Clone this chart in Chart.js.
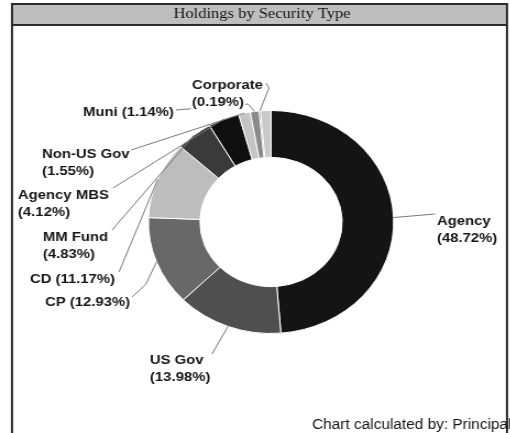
<!DOCTYPE html>
<html>
<head>
<meta charset="utf-8">
<script src="https://cdn.jsdelivr.net/npm/chart.js@4"></script>
<style>
  html, body { margin: 0; padding: 0; background: #fff; overflow: hidden; }
  /* the scanned chart is stretched sideways, so the canvas is too */
  #wrap { width: 464px; height: 433px; transform: scaleX(1.1); transform-origin: 0 0; }
</style>
</head>
<body>
<div id="wrap"><canvas id="holdingsChart" width="464" height="433"></canvas></div>
<script>
const categories = ['Agency', 'US Gov', 'CP', 'CD', 'MM Fund', 'Agency MBS', 'Non-US Gov', 'Muni', 'Corporate', ''];
const shares = [48.72, 13.98, 12.93, 11.17, 4.83, 4.12, 1.55, 1.14, 0.19, 1.37];
const sliceColors = ['#141414', '#4f4f4f', '#686868', '#bdbdbd', '#3a3a3a', '#0f0f0f', '#c4c4c4', '#8a8a8a', '#101010', '#c8c8c8'];

const SX = 1.1; // horizontal stretch of the reference

// where each label sits (reference pixels), and the bends of its leader line
const labelSpots = [
  { x: 437, y: 221, lines: 2, from: [[435, 214]] },
  { x: 150, y: 360, lines: 2, from: [[212, 354]] },
  { x: 45, y: 302, lines: 1, from: [[132, 297], [146, 284]] },
  { x: 30, y: 279, lines: 1, from: [[119, 272]] },
  { x: 43, y: 237, lines: 2, from: [[112, 230]] },
  { x: 18, y: 195, lines: 2, from: [[113, 188]] },
  { x: 42, y: 154, lines: 2, from: [[131, 150]] },
  { x: 83, y: 112, lines: 1, from: [[176, 110], [248, 104]] },
  { x: 192, y: 85, lines: 2, from: [[266, 83], [269, 88]] },
  null
];

const framePlugin = {
  id: 'frame',
  beforeDraw(chart) {
    const ctx = chart.ctx;
    ctx.save();
    ctx.fillStyle = '#fff';
    ctx.fillRect(0, 0, chart.width, chart.height);
    ctx.fillStyle = '#bebebe';
    ctx.fillRect(12 / SX, 4, 495 / SX, 21);
    ctx.strokeStyle = '#2b2b2b';
    ctx.lineWidth = 2;
    ctx.beginPath();
    ctx.moveTo(12 / SX, 433); ctx.lineTo(12 / SX, 4);
    ctx.lineTo(507 / SX, 4); ctx.lineTo(507 / SX, 433);
    ctx.moveTo(12 / SX, 25); ctx.lineTo(507 / SX, 25);
    ctx.stroke();

    ctx.fillStyle = '#151515';
    ctx.font = '15px "Liberation Serif"';
    ctx.textAlign = 'center';
    ctx.textBaseline = 'middle';
    ctx.fillText('Holdings by Security Type', 262 / SX, 14);

    ctx.font = '14px "Liberation Sans"';
    ctx.textAlign = 'left';
    ctx.fillText('Chart calculated by: Principal', 312 / SX, 425);
    ctx.restore();
  },
  afterDatasetsDraw(chart) {
    const ctx = chart.ctx;
    const meta = chart.getDatasetMeta(0);
    ctx.save();
    // leader lines
    ctx.strokeStyle = '#7a7a7a';
    ctx.lineWidth = 1;
    labelSpots.forEach((spot, i) => {
      if (!spot) return;
      const p = meta.data[i].getProps(['x', 'y', 'startAngle', 'endAngle', 'outerRadius'], true);
      const mid = (p.startAngle + p.endAngle) / 2;
      ctx.beginPath();
      spot.from.forEach(([x, y], k) => {
        if (k === 0) ctx.moveTo(x / SX, y); else ctx.lineTo(x / SX, y);
      });
      ctx.lineTo(p.x + Math.cos(mid) * p.outerRadius, p.y + Math.sin(mid) * p.outerRadius);
      ctx.stroke();
    });
    // label texts
    ctx.font = 'bold 13.5px "Liberation Sans"';
    ctx.textAlign = 'left';
    ctx.textBaseline = 'middle';
    labelSpots.forEach((spot, i) => {
      if (!spot) return;
      const pct = '(' + shares[i].toFixed(2) + '%)';
      const rows = spot.lines === 2 ? [categories[i], pct] : [categories[i] + ' ' + pct];
      rows.forEach((t, r) => {
        const x = spot.x / SX, y = spot.y + r * 17;
        const w = ctx.measureText(t).width;
        ctx.fillStyle = '#fff';
        ctx.fillRect(x - 1, y - 8, w + 2, 16);
        ctx.fillStyle = '#161616';
        ctx.fillText(t, x, y);
      });
    });
    ctx.restore();
  }
};

new Chart(document.getElementById('holdingsChart'), {
  type: 'doughnut',
  data: {
    labels: categories,
    datasets: [{
      data: shares,
      backgroundColor: sliceColors,
      borderColor: '#ffffff',
      borderWidth: 1,
      hoverOffset: 0
    }]
  },
  options: {
    responsive: false,
    devicePixelRatio: 1,
    animation: false,
    cutout: '58%',
    layout: { padding: { left: 134.4, right: 105.6, top: 110, bottom: 99 } },
    plugins: {
      legend: { display: false },
      tooltip: { enabled: false }
    }
  },
  plugins: [framePlugin]
});
</script>
</body>
</html>
